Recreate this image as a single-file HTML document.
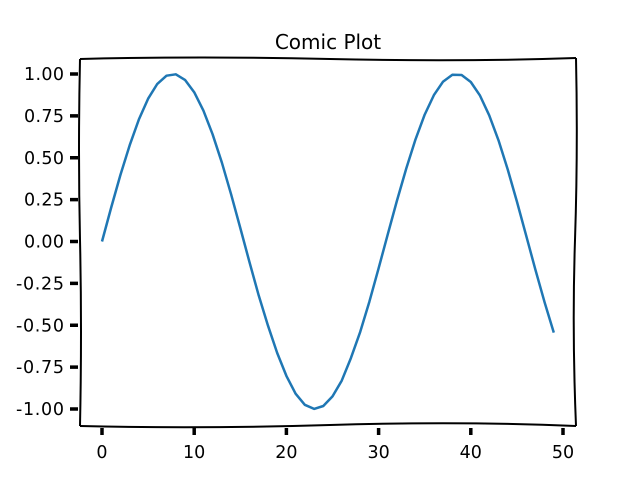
<!DOCTYPE html>
<html><head><meta charset="utf-8"><style>
body{margin:0;background:#fff}
svg text{font-family:"DejaVu Sans","Liberation Sans",sans-serif;fill:#000}
</style></head><body>
<svg id="chart" width="640" height="480">
<text x="328" y="49" font-size="20" text-anchor="middle">Comic Plot</text>
<path d="M80,59 Q200,56 330,59 T576,58" fill="none" stroke="#000" stroke-width="2"/>
<path d="M80,426 Q200,429 330,425 T576,426" fill="none" stroke="#000" stroke-width="2"/>
<path d="M80,59 Q78,150 80,240 T80,426" fill="none" stroke="#000" stroke-width="2"/>
<path d="M576,58 Q578,150 575,240 T576,426" fill="none" stroke="#000" stroke-width="2"/>
<g id="ticks"></g>
<path id="line" fill="none" stroke="#1f77b4" stroke-width="2.5" stroke-linejoin="round"/>
</svg>
<script>
const yValues=[0,0.2027,0.3969,0.5748,0.7288,0.8524,0.9406,0.9899,0.9981,0.9648,0.8916,0.7817,0.6400,0.4707,0.2818,0.0803,-0.1233,-0.3215,-0.5028,-0.6657,-0.8023,-0.9087,-0.9752,-0.9995,-0.9821,-0.9247,-0.8310,-0.6960,-0.5397,-0.3587,-0.1602,0.0434,0.2449,0.4363,0.6096,0.7576,0.8741,0.9544,0.9951,0.9943,0.9525,0.8712,0.7534,0.6044,0.4302,0.2386,0.0370,-0.1660,-0.3631,-0.5440];
const xTicks=[0,10,20,30,40,50];
const yTicks=[1,0.75,0.5,0.25,0,-0.25,-0.5,-0.75,-1];
const yLabels=["1.00","0.75","0.50","0.25","0.00","-0.25","-0.50","-0.75","-1.00"];
const X=v=>102+v*9.22, Y=v=>241.5-v*167.5;
const NS="http://www.w3.org/2000/svg", g=document.getElementById('ticks');
function mk(t,a){const e=document.createElementNS(NS,t);for(const k in a)e.setAttribute(k,a[k]);g.appendChild(e);return e;}
xTicks.forEach(v=>{
 const l=mk('line',{x1:X(v),x2:X(v),y1:428,y2:435,stroke:'#000','stroke-width':3.5});
 
 
 const t=mk('text',{x:X(v),y:458,'font-size':17.5,'text-anchor':'middle'});t.textContent=v;
 
 
});
yTicks.forEach((v,i)=>{
 const l=mk('line',{x1:70,x2:78,y1:Y(v),y2:Y(v),stroke:'#000','stroke-width':3.5});
 
 
 const t=mk('text',{x:64,y:Y(v)+6,'font-size':17.5,'text-anchor':'end','textLength':v<0?48:40});t.textContent=yLabels[i];
 
 
});
document.getElementById('line').setAttribute('d',yValues.map((v,i)=>(i?'L':'M')+X(i).toFixed(1)+','+Y(v).toFixed(1)).join(''));
</script>
</body></html>
